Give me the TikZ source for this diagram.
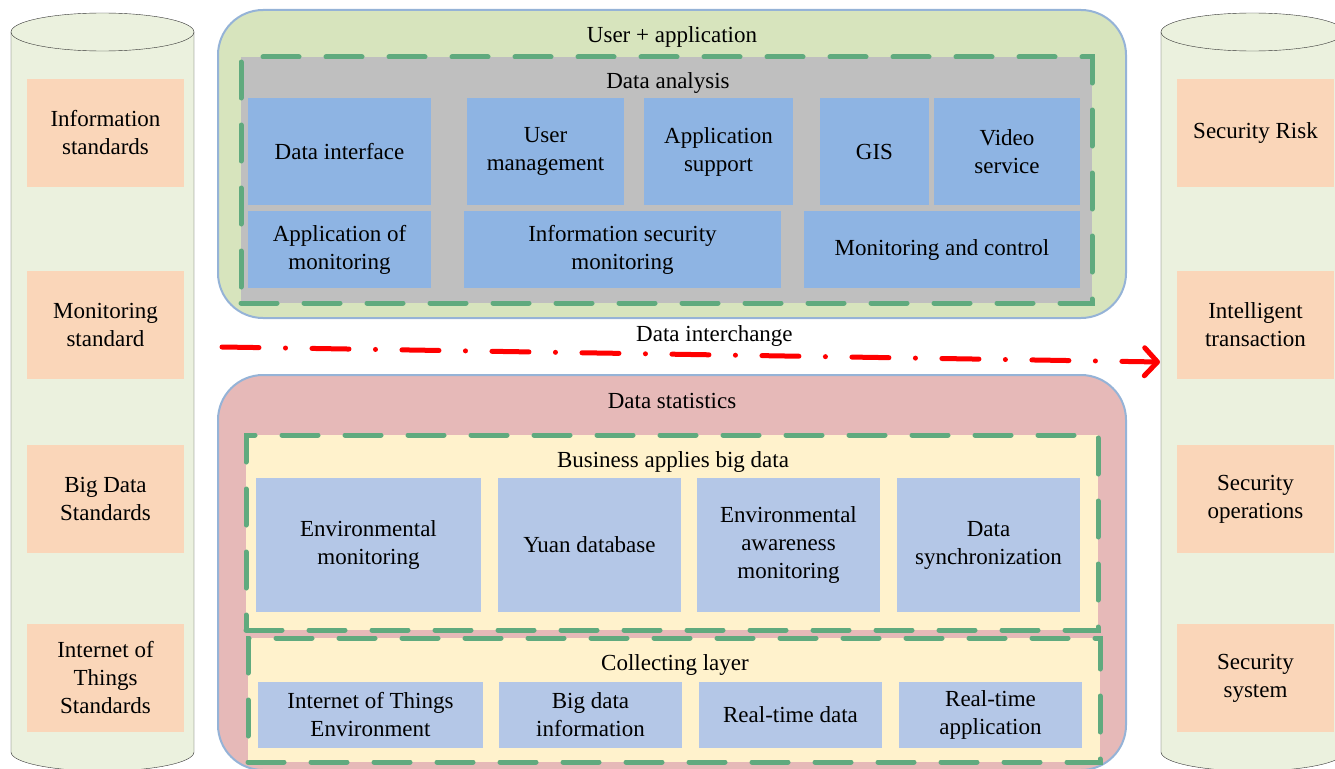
\documentclass[tikz,border=0pt]{standalone}
\usepackage{fontspec}
\setmainfont{Liberation Serif}
\usetikzlibrary{arrows.meta,positioning}
\definecolor{cylc}{HTML}{EBF1DE}
\definecolor{stdc}{HTML}{FAD6B9}
\definecolor{edgec}{HTML}{95B3D7}
\definecolor{dashc}{HTML}{60AA7E}
\definecolor{ltop}{HTML}{D7E4BD}
\definecolor{lbot}{HTML}{E6B9B8}
\definecolor{grayc}{HTML}{BFBFBF}
\definecolor{yelc}{HTML}{FFF2CC}
\definecolor{blu1}{HTML}{8EB4E3}
\definecolor{blu2}{HTML}{B4C7E7}

\begin{document}
\begin{tikzpicture}[x=1pt,y=-1pt,font=\fontsize{23}{28}\selectfont,
  sz/.style 2 args={minimum width=#1pt,minimum height=#2pt},
  std/.style={fill=stdc,inner sep=0pt,align=center,minimum width=157pt,minimum height=108pt},
  layer/.style={draw=edgec,line width=2pt,rounded corners=45pt,fill=#1},
  frame/.style={draw=dashc,line width=5pt,line cap=round,dash pattern=on 36pt off 27pt,fill=#1},
  blk/.style={fill=#1,inner sep=0pt,align=center},
  arr/.style={draw=red,line width=5pt,line cap=round,dash pattern=on 37pt off 26.5pt on 0pt off 26.5pt,
    -{Straight Barb[length=13pt,width=28pt,round]}}]
\useasboundingbox (0,0) rectangle (1335,768);
% side cylinders
\foreach \x in {11,1161} {
  \fill[cylc] (\x,32) -- (\x,752) arc[start angle=180,end angle=0,x radius=91.5,y radius=19]
    -- (\x+183,32) arc[start angle=0,end angle=-180,x radius=91.5,y radius=19] -- cycle;
  \draw[black!80] (\x,32) -- (\x,752) arc[start angle=180,end angle=0,x radius=91.5,y radius=19] -- (\x+183,32);
  \draw[black!80] (\x+91.5,32) ellipse[x radius=91.5,y radius=19];
}
\foreach \n/\y/\t in {is/133/{Information\\standards},ms/324.5/{Monitoring\\standard},
  bs/499/{Big Data\\Standards},ts/678/{Internet of\\Things\\Standards}}
  \node[std] (\n) at (105.5,\y) {\t};
\foreach \n/\y/\t in {sr/133/{Security Risk},it/324.5/{Intelligent\\transaction},
  so/499/{Security\\operations},ss/678/{Security\\system}}
  \node[std] (\n) at (1255.5,\y) {\t};

% upper layer
\node[layer=ltop, sz={908}{308}] (ua) at (672,164) {};
\node (uat) at (672,37) {User + application};
\node[frame=grayc, sz={851}{246}] (da) at (666.5,180) {};
\node (dat) at (668,83) {Data analysis};
\foreach \n/\x/\w/\t in {di/339.5/183/{Data interface},um/545.5/157/{User\\management},
  as/718.5/149/{Application\\support},gis/874.5/109/{GIS},vs/1007/146/{Video\\service}}
  \node[blk=blu1, sz={\w}{107}] (\n) at (\x,151.5) {\t};
\foreach \n/\x/\w/\t in {am/339.5/183/{Application of\\monitoring},ism/622.5/317/{Information security\\monitoring},
  mc/942/276/{Monitoring and control}}
  \node[blk=blu1, sz={\w}{77}] (\n) at (\x,249.5) {\t};

% data interchange
\coordinate (xs) at (222,347);
\coordinate (xe) at (1160,362);
\draw[arr] (xs) -- node[pos=0.525,above=3pt,text=black]{Data interchange} (xe);

% lower layer
\node[layer=lbot, sz={908}{395}] (st) at (672,572.5) {};
\node (stt) at (672,401) {Data statistics};
\node[frame=yelc, sz={852}{195}] (ba) at (672,532.5) {};
\node (bat) at (673,462) {Business applies big data};
\foreach \n/\x/\w/\t in {em/368.5/225/{Environmental\\monitoring},yd/589.5/183/{Yuan database},
  eam/788.5/183/{Environmental\\awareness\\monitoring},ds/988.5/183/{Data\\synchronization}}
  \node[blk=blu2, sz={\w}{134}] (\n) at (\x,545) {\t};
\node[frame=yelc, sz={852}{124}] (cl) at (674,700) {};
\node (clt) at (675,665) {Collecting layer};
\foreach \n/\x/\w/\t in {iot/370.5/225/{Internet of Things\\Environment},bdi/590.5/183/{Big data\\information},
  rtd/790.5/183/{Real-time data},rta/990.5/183/{Real-time\\application}}
  \node[blk=blu2, sz={\w}{66}] (\n) at (\x,715) {\t};
\end{tikzpicture}
\end{document}
